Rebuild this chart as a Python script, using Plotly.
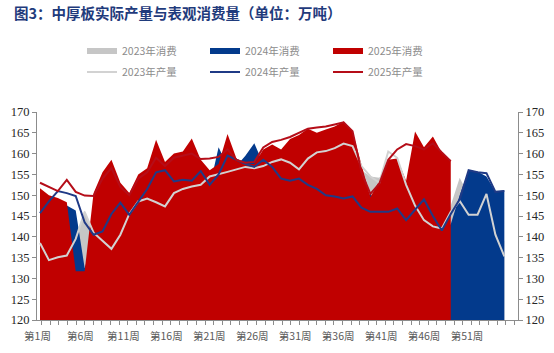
import plotly.graph_objects as go

# ---------------- data (万吨) ----------------
weeks = list(range(1, 54))
weeks_2025 = list(range(1, 48))

cons_2023 = [137, 135, 135.5, 136, 140, 146.3, 140, 139, 137, 141,
             145, 147.5, 148.5, 147.5, 146.5, 150, 151, 152, 152, 154,
             154.5, 155, 155.5, 156, 156, 156.5, 157.5, 158, 157, 155.5,
             158, 159.5, 160, 160.5, 161.5, 161, 156, 154.5, 154.2, 157.5,
             158, 152, 147, 144, 142.5, 142, 147.5, 154.2, 150, 145,
             149, 144, 139]

cons_2024 = [149, 148.5, 148, 147.5, 146.3, 132.5, 139, 141, 144, 147,
             145, 148, 150, 153, 155, 152.5, 153, 153, 155, 152,
             161.5, 157, 157, 159.5, 162.5, 157.5, 156, 154, 153, 153.5,
             152, 151, 150, 149.5, 149, 149.5, 147, 150.5, 146, 146,
             147, 144, 146, 149, 145, 141.5, 143, 150, 156, 155.7,
             154.5, 150.8, 151.2]

cons_2025 = [151.7, 150, 149.3, 148.3, 131.7, 131.7, 150.5, 155.5, 158.5, 153,
             150.5, 155, 156.5, 163.3, 158, 160, 160.5, 163.6, 158.5, 156,
             157.5, 164.7, 158.8, 157.5, 157.5, 161, 162.2, 161, 163.5, 164.5,
             166, 165, 165.8, 166.5, 167.7, 165.3, 157.4, 149.5, 153.5, 158.5,
             158.8, 153.5, 165.3, 161.5, 164.1, 160.2, 158.4]

prod_2023 = [138.5, 134.4, 135.1, 135.5, 139.5, 146, 141, 139, 137.1, 140.5,
             145.5, 148.5, 149.2, 148.3, 147.3, 150.5, 151.5, 152.1, 152.5, 154.5,
             155, 155.6, 156.2, 156.8, 156.5, 157, 158, 158.6, 157.8, 156.2,
             158.8, 160.3, 160.6, 161.3, 162.4, 161.8, 157, 154.5, 153, 160.5,
             159, 152.5, 147.5, 144, 142.5, 142, 146, 148.6, 145.3, 145.3,
             150.3, 140.5, 135.3]

prod_2024 = [145.7, 148.5, 151, 150.5, 149.8, 143.5, 140.5, 141.3, 145.5, 148.2,
             145.3, 148.5, 151.5, 155.5, 156, 153.3, 153.7, 153.5, 155.8, 152.5,
             155, 159.5, 158.5, 157.5, 156.8, 158.5, 156.8, 154, 153.5, 154,
             152.5, 151.5, 150, 149.7, 149.2, 149.7, 147, 146, 146, 146,
             146.8, 144, 146.5, 149, 145, 141.5, 145.5, 149, 156, 155.5,
             155.3, 150.8, 151]

prod_2025 = [153, 152, 151, 153.7, 150.8, 149.9, 149.8, 154, 156.5, 152,
             150, 154, 155.5, 159, 157, 159, 159.5, 160, 158.7, 158.8,
             159.2, 161, 158.5, 157.8, 158, 161.5, 162.8, 163.3, 164, 165,
             166, 166.3, 166.5, 167, 167.5, 165.4, 155.5, 150.3, 152.8, 158.5,
             161, 162.3, 161.8, 161, 162.5, 160.3, 158.2]

label_weeks = [1, 6, 11, 16, 21, 26, 31, 36, 41, 46, 51]
tick_labels = ["第%d周" % w for w in label_weeks]

# ---------------- layout / styles ----------------
# the category labels of the original sit on a slightly narrower grid
# (8.59 px per label slot) than the data points (8.93 px per week)
LABEL_STEP = 8.59 / 8.93
LABEL_OFFSET = -2.5 / 8.93
label_pos = [1 + (w - 1) * LABEL_STEP + LABEL_OFFSET for w in label_weeks]

C23_AREA = "#c6c6c6"
C24_AREA = "#033a8c"
C25_AREA = "#c00000"
C23_LINE = "#d2d2d2"
C24_LINE = "#1f3a86"
C25_LINE = "#b50d18"
CJK = "Noto Sans CJK SC"

fig = go.Figure()

area_specs = [
    ("2023年消费", weeks, cons_2023, C23_AREA),
    ("2024年消费", weeks, cons_2024, C24_AREA),
    ("2025年消费", weeks_2025, cons_2025, C25_AREA),
]
for name, xs, ys, col in area_specs:
    fig.add_trace(go.Scatter(
        x=xs, y=ys, name=name, mode="none", fill="tozeroy",
        fillcolor=col, legend="legend", hoverinfo="skip", yaxis="y"))

line_specs = [
    ("2023年产量", weeks, prod_2023, C23_LINE),
    ("2024年产量", weeks, prod_2024, C24_LINE),
    ("2025年产量", weeks_2025, prod_2025, C25_LINE),
]
for name, xs, ys, col in line_specs:
    fig.add_trace(go.Scatter(
        x=xs, y=ys, name=name, mode="lines",
        line=dict(color=col, width=2), legend="legend2",
        hoverinfo="skip", yaxis="y2"))

axis_col = "#8c8c8c"
yfont = dict(family="Liberation Serif", size=12.5, color="#262626")
legend_common = dict(orientation="h", x=(82 - 37) / 481, xanchor="left",
                     yanchor="middle", entrywidth=78, entrywidthmode="pixels",
                     font=dict(family=CJK, size=10.5, color="#8c8c8c"),
                     bgcolor="rgba(0,0,0,0)", tracegroupgap=0)

fig.update_layout(
    width=554, height=353,
    margin=dict(l=37, r=36, t=112, b=33, autoexpand=False),
    paper_bgcolor="white", plot_bgcolor="white",
    title=dict(text="<b>图3：中厚板实际产量与表观消费量（单位：万吨）</b>",
               x=14 / 554, xref="container", xanchor="left",
               y=1 - 13.5 / 353, yref="container", yanchor="middle",
               font=dict(family=CJK, size=14.5, color="#1f3b7c")),
    xaxis=dict(range=[0.664, 54.53], tickmode="array",
               tickvals=label_pos, ticktext=tick_labels, ticks="",
               ticklabelstandoff=6, automargin=False,
               minor=dict(ticks="outside", ticklen=4, tickcolor=axis_col,
                          tickmode="linear",
                          tick0=1 + LABEL_OFFSET - LABEL_STEP / 2,
                          dtick=LABEL_STEP),
               tickfont=dict(family=CJK, size=10.5, color="#5a5a5a"),
               showline=True, linecolor=axis_col, linewidth=1,
               showgrid=False, zeroline=False),
    yaxis=dict(range=[120, 170], dtick=5, tick0=120, ticks="outside",
               ticklen=4, tickcolor=axis_col, showline=True,
               linecolor=axis_col, linewidth=1, showgrid=False,
               zeroline=False, tickfont=yfont, automargin=False),
    yaxis2=dict(overlaying="y", side="right", anchor="x",
                range=[120, 170], dtick=5, tick0=120, ticks="outside",
                ticklen=4, tickcolor=axis_col, showline=True,
                linecolor=axis_col, linewidth=1, showgrid=False,
                zeroline=False, tickfont=yfont, automargin=False),
    legend=dict(legend_common, y=(320 - 51) / 208),
    legend2=dict(legend_common, y=(320 - 72) / 208),
    showlegend=True,
)

fig.write_html("out.html")
